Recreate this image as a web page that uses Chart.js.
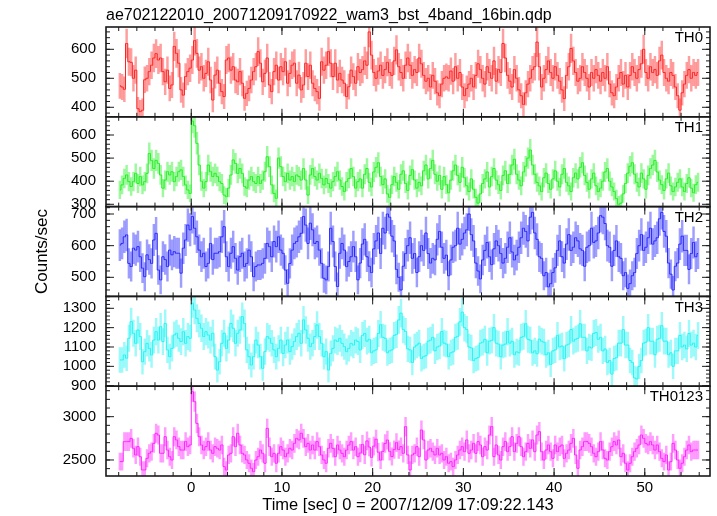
<!DOCTYPE html>
<html><head><meta charset="utf-8">
<script src="https://cdn.jsdelivr.net/npm/chart.js@4.4.0/dist/chart.umd.min.js"></script>
<style>html,body{margin:0;padding:0;background:#fff;}#wrap{position:relative;width:717px;height:516px;}</style>
</head><body><div id="wrap"><canvas id="c" width="717" height="516"></canvas></div>
<script>
const TITLE = 'ae702122010_20071209170922_wam3_bst_4band_16bin.qdp';
const X_TITLE = 'Time [sec] 0 = 2007/12/09 17:09:22.143';
const Y_TITLE = 'Counts/sec';
const BANDS = ['TH0', 'TH1', 'TH2', 'TH3', 'TH0123'];
const T_START = -7.875;   // centre of first bin (s)
const BIN = 0.25;         // bin width (s)

const TH0 = [
474,470,462,620,557,555,500,528,395,385,
390,495,500,523,545,570,585,563,570,523,
488,528,465,477,610,586,552,460,442,506,
523,535,563,630,586,528,540,500,517,557,
494,425,511,528,483,454,437,563,570,528,
540,494,488,523,483,431,448,465,494,523,
540,592,552,488,517,570,477,454,523,545,
494,540,523,557,483,517,545,552,483,511,
460,477,552,506,545,483,465,454,431,557,
528,545,592,552,506,552,494,517,494,483,
437,471,528,506,483,540,
520,530,560,545,660,580,520,500,525,545,
510,530,555,520,510,560,598,540,520,500,
545,570,545,510,530,520,570,550,510,490,
500,470,510,490,450,440,480,500,505,500,
525,490,540,500,520,470,440,465,480,500,
470,510,550,530,500,480,540,520,500,560,
490,530,520,620,570,510,490,470,530,500,
460,440,410,450,480,500,530,540,625,540,
470,500,530,560,520,500,540,510,490,460,
430,510,540,603,560,520,490,500,540,520,
500,470,520,500,530,510,490,520,500,540,
480,450,440,470,500,520,480,510,470,510,
540,520,500,530,550,600,520,500,540,520,
530,510,560,580,520,500,490,520,510,470,
440,390,450,480,510,530,500,520,510,520];

const TH1 = [
362,384,412,427,398,377,398,434,390,420,
384,398,434,520,490,455,490,477,427,370,
405,441,427,441,398,420,441,449,420,384,
362,347,660,640,564,470,400,370,398,470,
441,420,434,420,398,390,340,333,370,427,
492,477,434,455,434,377,370,405,420,398,
390,420,390,405,441,506,463,384,347,326,
500,463,420,398,434,405,420,398,427,420,
405,455,405,340,427,455,420,405,434,412,
384,412,390,370,398,420,441,405,377,355,
398,412,455,420,370,398,
410,370,430,455,395,375,440,460,480,420,
385,410,345,330,385,420,395,365,430,445,
390,360,425,450,405,370,395,380,445,470,
410,455,490,430,400,425,365,420,385,350,
405,445,470,425,395,460,415,380,355,410,
365,330,305,345,390,410,440,375,420,455,
405,385,360,425,445,390,430,470,495,430,
405,380,440,465,500,535,470,430,395,380,
355,415,435,390,365,410,445,400,375,430,
455,395,380,355,415,435,410,460,480,425,
395,365,410,435,380,355,370,400,440,455,
400,375,355,325,300,305,345,390,435,465,
480,430,395,375,435,410,365,425,455,470,
490,440,405,385,360,410,435,380,355,375,
395,410,375,355,390,415,370,350,385,395];

const TH2 = [
602,607,628,634,544,534,592,586,597,565,
529,502,571,556,544,618,639,523,492,565,
556,534,586,571,581,576,576,513,592,618,
665,650,692,655,628,586,565,576,534,544,
607,556,576,576,581,628,660,565,534,576,
597,560,523,565,576,534,544,586,565,502,
534,539,539,544,560,607,597,565,613,597,
628,586,576,523,481,544,586,607,613,628,
639,692,665,607,671,650,607,613,586,544,
497,492,534,655,613,534,471,576,607,586,
534,550,565,597,565,492,
545,605,620,565,535,515,590,615,640,575,
655,640,700,690,630,615,525,500,460,535,
575,600,625,560,575,515,565,600,585,640,
575,545,560,555,620,645,595,560,570,505,
555,595,600,655,605,620,640,650,700,635,
615,545,520,495,555,585,610,565,540,590,
615,600,575,545,560,595,625,580,555,570,
595,625,655,645,615,690,705,640,620,565,
560,505,515,470,480,515,530,585,615,565,
545,605,635,585,595,625,615,590,585,535,
595,600,655,610,615,640,695,690,670,600,
595,535,585,615,565,560,505,515,465,480,
505,515,575,600,635,585,595,625,655,605,
615,625,685,705,645,630,545,510,460,535,
545,605,630,585,585,525,575,610,565,575];

const TH3 = [
1033,1033,1059,1042,1145,1231,1171,1119,1188,1154,
1024,1076,1119,1093,1059,1136,1179,1136,1205,1128,
1222,1085,1050,1093,1162,1171,1145,1128,1179,1119,
1154,1145,1326,1291,1248,1222,1197,1154,1179,1162,
1136,1171,1050,981,1024,1119,1171,1093,1136,1222,
1197,1119,1171,1188,1257,1222,1085,1050,1007,1050,
1136,1110,1050,990,1076,1154,1145,1119,1085,1050,
1093,1136,1067,1110,1136,1076,1102,1128,1154,1171,
1119,1240,1188,1145,1102,1119,1154,1214,1154,1119,
1050,1076,981,1067,1093,1136,1128,1145,1119,1102,
1076,1093,1119,1110,1136,1128,
1085,1160,1170,1130,1140,1070,1080,1085,1170,1215,
1150,1145,1070,1080,1085,1160,1165,1240,1275,1190,
1180,1090,1085,1020,1100,1110,1120,1040,1050,1055,
1130,1135,1150,1080,1100,1105,1180,1120,1115,1050,
1070,1075,1150,1155,1230,1280,1200,1190,1100,1095,
1030,1040,1045,1120,1125,1140,1070,1130,1135,1200,
1120,1115,1050,1110,1115,1180,1120,1130,1060,1075,
1070,1150,1155,1220,1140,1135,1070,1080,1065,1140,
1130,1125,1060,1070,1010,1080,1085,1160,1100,1105,
1040,1110,1115,1190,1130,1140,1145,1220,1150,1150,
1080,1100,1095,1170,1175,1140,1150,1080,1090,1020,
1030,960,1040,1045,1120,1120,1190,1110,1110,1030,
1020,940,935,1000,1030,1120,1125,1200,1130,1130,
1060,1140,1145,1210,1130,1130,1060,1070,1000,1080,
1080,1160,1100,1110,1090,1170,1110,1120,1100,1160];

const TH0123 = [
2481,2481,2712,2712,2712,2750,2635,2558,2654,2538,
2385,2385,2519,2577,2596,2692,2808,2788,2577,2577,
2769,2615,2538,2500,2769,2731,2654,2615,2615,2712,
2654,2673,3288,3173,2923,2769,2673,2615,2654,2712,
2615,2577,2654,2635,2615,2673,2423,2385,2558,2577,
2769,2654,2808,2673,2577,2558,2500,2462,2404,2365,
2500,2538,2615,2577,2462,2865,2654,2538,2577,2462,
2577,2654,2615,2538,2577,2635,2615,2692,2750,2731,
2808,2750,2654,2692,2615,2673,2615,2712,2654,2558,
2500,2462,2635,2692,2635,2538,2673,2615,2577,2538,
2615,2673,2712,2615,2654,2538,
2580,2680,2560,2720,2650,2530,2660,2740,2590,2500,
2600,2690,2730,2600,2540,2620,2700,2620,
2654,2577,2885,2558,2385,2558,2577,2654,2538,2846,
2731,2500,2615,2635,2596,2558,2635,2558,2577,2500,
2538,2462,2481,2423,2500,2558,2615,2654,2596,2731,
2577,2615,2692,2577,2712,2673,2538,2654,2615,2788,
2885,2538,2673,2558,2500,2654,2712,2596,2654,2769,
2596,2692,2769,2654,2538,2596,2692,2635,2731,2596,
2788,2827,2596,2500,2615,2673,2596,2519,2673,2596,
2654,2673,2519,2577,2615,2692,2750,2558,2404,2615,
2654,2712,2712,2692,2654,2577,2538,2596,2712,2615,
2519,2500,2596,2654,2712,2673,2731,2538,2577,2462,
2385,2462,2538,2596,2635,2673,2788,2750,2692,2673,
2712,2673,2615,2673,2596,2519,2481,2558,2385,2481,
2692,2615,2500,2404,2462,2538,2615,2673,2596,2615,
2615,2615];

const X_TICKS = [0, 10, 20, 30, 40, 50];
const X_RANGE = [-9.40, 57.19];
const Y_TICKS_TH0 = [400, 500, 600];
const Y_TICKS_TH1 = [300, 400, 500, 600];
const Y_TICKS_TH2 = [500, 600, 700];
const Y_TICKS_TH3 = [900, 1000, 1100, 1200, 1300];
const Y_TICKS_TH0123 = [2500, 3000];
const Y_RANGE_TH0 = [367.2, 676.9];
const Y_RANGE_TH1 = [290, 678.8];
const Y_RANGE_TH2 = [439.7, 723.4];
const Y_RANGE_TH3 = [897.4, 1361.5];
const Y_RANGE_TH0123 = [2315, 3352];

const SERIES = [TH0, TH1, TH2, TH3, TH0123];
const Y_TICKS = [Y_TICKS_TH0, Y_TICKS_TH1, Y_TICKS_TH2, Y_TICKS_TH3, Y_TICKS_TH0123];
const Y_RANGE = [Y_RANGE_TH0, Y_RANGE_TH1, Y_RANGE_TH2, Y_RANGE_TH3, Y_RANGE_TH0123];
const MINOR = [20, 20, 20, 20, 100];
const X_MINOR = 2;

const LINE_COLORS = ['#ff2424', '#24f024', '#2828ff', '#24f4f4', '#ff24ff'];
const ERR_COLORS = ['rgba(255,40,40,0.45)', 'rgba(40,240,40,0.45)', 'rgba(40,40,255,0.45)', 'rgba(40,245,245,0.45)', 'rgba(255,40,255,0.45)'];

const FONT = '"Liberation Sans", Arial, Helvetica, sans-serif';
Chart.defaults.font.family = FONT;
Chart.defaults.color = '#000';

const datasets = [];
SERIES.forEach((vals, k) => {
  const pts = vals.map((v, i) => ({x: T_START + i * BIN, y: v}));
  const errs = vals.map((v, i) => { const e = Math.sqrt(v / BIN); return {x: T_START + i * BIN, y: [v - e, v + e]}; });
  datasets.push({type: 'bar', data: errs, yAxisID: 'y' + k, xAxisID: 'x', backgroundColor: ERR_COLORS[k],
    barThickness: 1.8, grouped: false, borderWidth: 0, borderSkipped: false, order: 2});
  datasets.push({type: 'line', data: pts, yAxisID: 'y' + k, xAxisID: 'x', borderColor: LINE_COLORS[k],
    borderWidth: 1, pointRadius: 0, stepped: 'middle', fill: false, order: 1});
});

const scales = {
  x: {
    type: 'linear', position: 'bottom', min: X_RANGE[0], max: X_RANGE[1], offset: false,
    afterBuildTicks: s => { s.ticks = X_TICKS.map(v => ({value: v})); },
    afterFit: s => { s.height = 40; },
    grid: {display: false, drawTicks: false, offset: false}, border: {display: false},
    ticks: {autoSkip: false, maxRotation: 0, padding: 3, font: {size: 15}, color: '#000', callback: v => String(v)},
    title: {display: true, text: X_TITLE, font: {size: 16.5}, color: '#000', padding: {top: 0, bottom: 0.3}}
  }
};
for (let k = BANDS.length - 1; k >= 0; k--) {
  scales['y' + k] = {
    type: 'linear', position: 'left', stack: 'panels', stackWeight: 1, offset: false,
    min: Y_RANGE[k][0], max: Y_RANGE[k][1],
    afterBuildTicks: s => { s.ticks = Y_TICKS[k].map(v => ({value: v})); },
    afterFit: s => { s.width = 106; },
    grid: {display: false, drawTicks: false}, border: {display: false},
    ticks: {autoSkip: false, padding: 10, font: {size: 15}, color: '#000', callback: v => String(v)},
    title: {display: k === 2, text: Y_TITLE, font: {size: 17}, color: '#000', padding: {top: 31.8, bottom: 0}}
  };
}

const clipPanels = {
  id: 'clipPanels',
  beforeDatasetDraw(chart, args) {
    const ds = chart.data.datasets[args.index];
    const ys = chart.scales[ds.yAxisID];
    const ca = chart.chartArea;
    const ctx = chart.ctx;
    ctx.save();
    ctx.beginPath();
    ctx.rect(ca.left, ys.top, ca.right - ca.left, ys.bottom - ys.top);
    ctx.clip();
  },
  afterDatasetDraw(chart) { chart.ctx.restore(); }
};

const frame = {
  id: 'frame',
  afterDatasetsDraw(chart) {
    const ctx = chart.ctx, xs = chart.scales.x, ca = chart.chartArea;
    const L = ca.left, R = ca.right, MAJ = 8, MIN = 4;
    const seg = (x1, y1, x2, y2) => { ctx.beginPath(); ctx.moveTo(x1, y1); ctx.lineTo(x2, y2); ctx.stroke(); };
    ctx.save();
    ctx.strokeStyle = '#1a1a1a';
    ctx.fillStyle = '#000';
    ctx.font = '15px ' + FONT;
    ctx.textAlign = 'right';
    ctx.textBaseline = 'middle';
    BANDS.forEach((name, k) => {
      const ys = chart.scales['y' + k];
      const T = ys.top, B = ys.bottom;
      ctx.lineWidth = 1;
      ys.ticks.forEach(t => { const p = ys.getPixelForValue(t.value); seg(L, p, L + MAJ, p); seg(R, p, R - MAJ, p); });
      const st = MINOR[k];
      for (let v = Math.ceil(ys.min / st) * st; v <= ys.max; v += st) {
        const p = ys.getPixelForValue(v); seg(L, p, L + MIN, p); seg(R, p, R - MIN, p);
      }
      xs.ticks.forEach(t => { const p = xs.getPixelForValue(t.value); seg(p, T, p, T + MAJ); seg(p, B, p, B - MAJ); });
      for (let v = Math.ceil(xs.min / X_MINOR) * X_MINOR; v <= xs.max; v += X_MINOR) {
        const p = xs.getPixelForValue(v); seg(p, T, p, T + MIN); seg(p, B, p, B - MIN);
      }
      ctx.lineWidth = 1.6;
      ctx.strokeRect(L, T, R - L, B - T);
      ctx.fillText(name, R - 7, T + 11);
    });
    ctx.restore();
  }
};

new Chart(document.getElementById('c'), {
  type: 'line',
  data: {datasets},
  options: {
    responsive: false, animation: false, devicePixelRatio: 1, events: [],
    layout: {padding: {left: 0, right: 7, top: 0, bottom: 0}},
    plugins: {
      legend: {display: false}, tooltip: {enabled: false},
      title: {display: true, text: TITLE, align: 'start', fullSize: false, color: '#000',
        font: {size: 16, weight: 'normal'}, padding: {top: 5.5, bottom: 2.3}}
    },
    scales
  },
  plugins: [clipPanels, frame]
});
</script></body></html>
